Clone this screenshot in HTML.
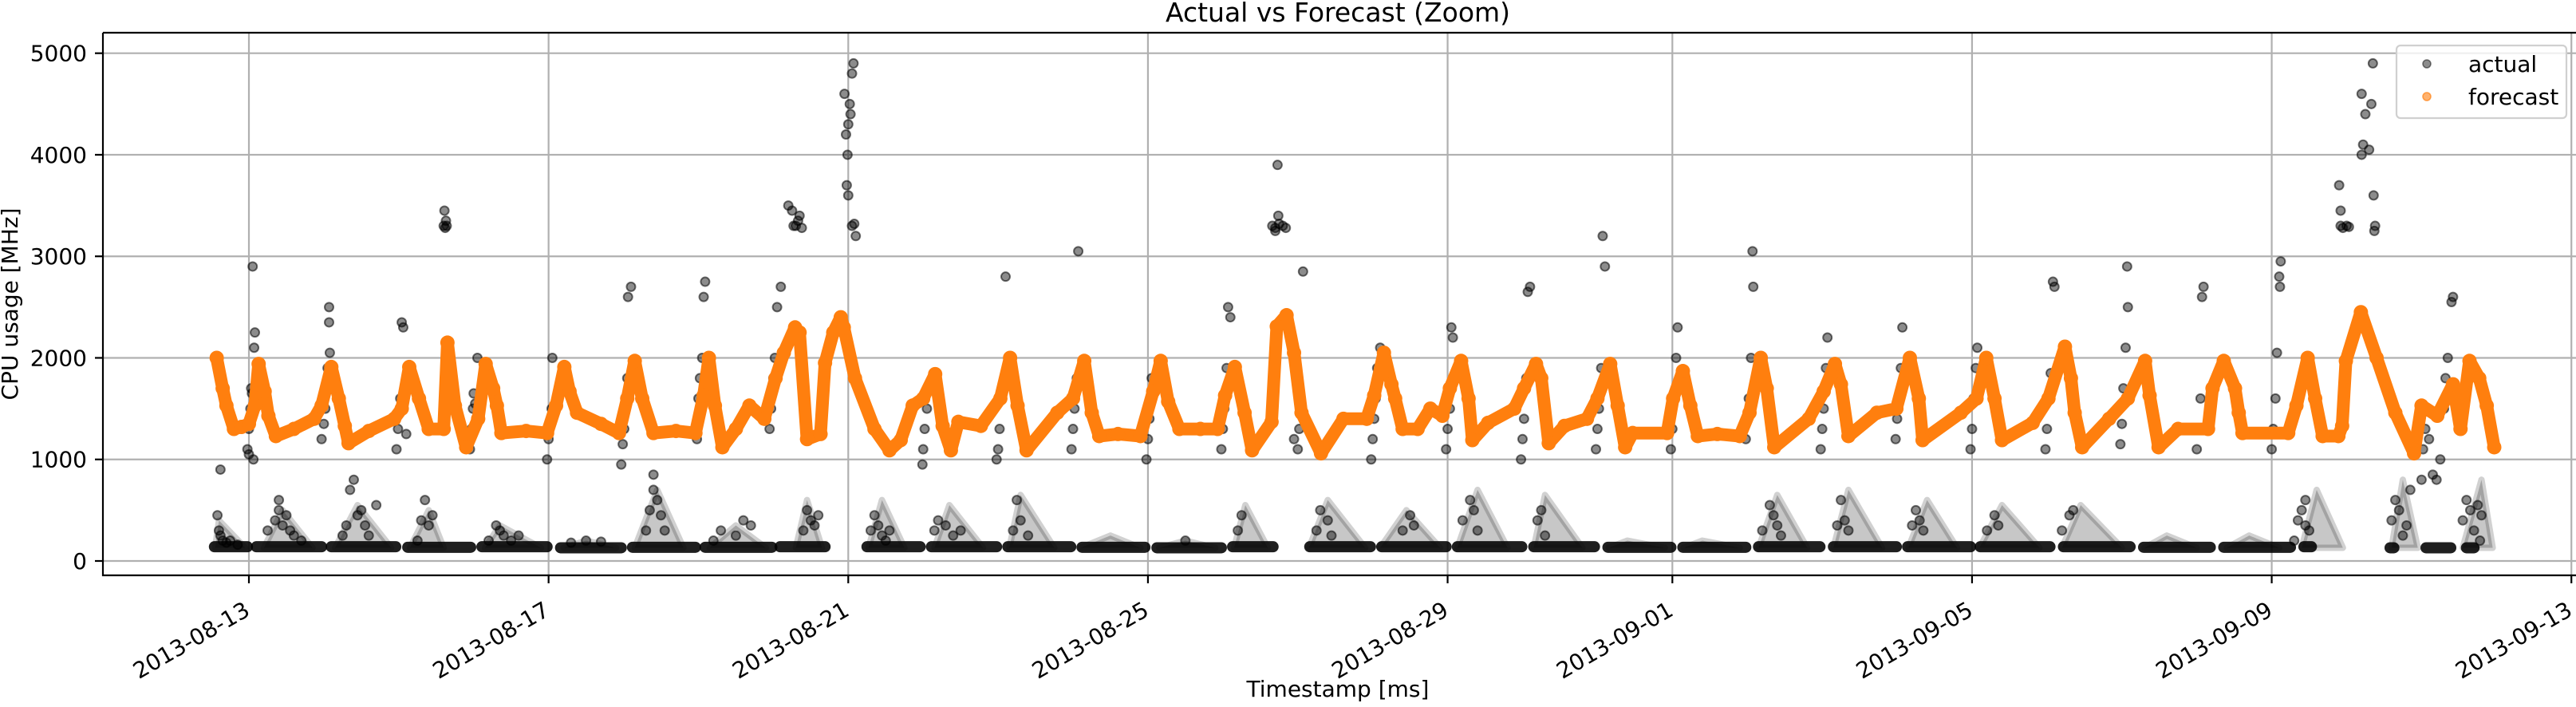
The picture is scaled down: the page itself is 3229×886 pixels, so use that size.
<!DOCTYPE html>
<html><head><meta charset="utf-8"><style>
html,body{margin:0;padding:0;background:#fff;}
svg{display:block;font-family:"DejaVu Sans","Liberation Sans",sans-serif;}
</style></head><body>
<svg id="chart" width="3229" height="886" viewBox="0 0 3229 886" xmlns="http://www.w3.org/2000/svg">
<rect width="3229" height="886" fill="#fff"/>
<g id="grid"></g>
<g id="actualLayer"></g>
<g id="forecastLayer"></g>
<g id="axes"></g>
<text x="1677" y="27" font-size="33" text-anchor="middle" fill="#000">Actual vs Forecast (Zoom)</text>
<text x="1677" y="873" font-size="28" text-anchor="middle" fill="#000">Timestamp [ms]</text>
<text x="0" y="0" font-size="28" text-anchor="middle" fill="#000" transform="translate(22,381) rotate(-90)">CPU usage [MHz]</text>
<g>
<rect x="3004" y="57" width="213" height="91" rx="5" fill="#fff" fill-opacity="0.8" stroke="#d0d0d0" stroke-width="2.2"/>
<circle cx="3042" cy="80" r="5" fill="rgba(0,0,0,0.45)" stroke="rgba(0,0,0,0.5)" stroke-width="1.5"/>
<text x="3094" y="90" font-size="28" fill="#000">actual</text>
<circle cx="3042" cy="121" r="5" fill="rgba(255,127,14,0.6)" stroke="rgba(255,127,14,0.7)" stroke-width="1.5"/>
<text x="3094" y="131" font-size="28" fill="#000">forecast</text>
</g>
</svg>
<script>
// time in days since 2013-08-12 00:00
const yTicks = [0, 1000, 2000, 3000, 4000, 5000];
const xTickDays = [1, 5, 9, 13, 17, 20, 24, 28, 32];
const xTickLabels = ["2013-08-13","2013-08-17","2013-08-21","2013-08-25","2013-08-29","2013-09-01","2013-09-05","2013-09-09","2013-09-13"];

const forecastTime = [0.57,0.65,0.70,0.80,0.90,1.00,1.08,1.13,1.21,1.26,1.36,1.6,1.87,1.97,2.10,2.20,2.28,2.33,2.6,2.94,3.04,3.14,3.27,3.40,3.60,3.65,3.75,3.90,4.06,4.16,4.26,4.31,4.37,4.7,4.98,5.10,5.21,5.28,5.38,5.7,5.94,6.05,6.15,6.25,6.40,6.7,6.96,7.07,7.14,7.22,7.32,7.5,7.68,7.88,8.03,8.14,8.29,8.35,8.45,8.63,8.69,8.80,8.90,8.94,9.09,9.35,9.55,9.70,9.86,10.0,10.16,10.26,10.37,10.47,10.77,11.03,11.16,11.26,11.38,11.79,12.0,12.15,12.25,12.35,12.6,12.9,13.07,13.17,13.27,13.42,13.7,13.93,14.03,14.16,14.29,14.39,14.65,14.72,14.85,14.95,15.05,15.31,15.61,15.92,16.02,16.15,16.25,16.30,16.4,16.6,16.77,16.93,17.03,17.18,17.28,17.33,17.54,17.89,18.02,18.18,18.25,18.35,18.56,18.86,19.0,19.17,19.27,19.37,19.47,19.93,20.01,20.14,20.24,20.34,20.6,20.9,21.03,21.18,21.26,21.36,21.82,22.02,22.17,22.25,22.35,22.73,22.99,23.17,23.29,23.34,23.85,24.06,24.19,24.3,24.4,24.81,25.02,25.24,25.32,25.37,25.47,25.83,26.08,26.31,26.37,26.49,26.75,27.15,27.21,27.36,27.51,27.56,27.61,28.22,28.33,28.48,28.58,28.68,28.89,28.94,28.99,29.19,29.4,29.65,29.9,30.0,30.21,30.42,30.52,30.64,30.77,30.87,30.97];
const forecastValue = [2000,1700,1530,1300,1320,1350,1530,1940,1670,1430,1230,1300,1400,1530,1910,1600,1330,1160,1280,1400,1500,1910,1600,1300,1300,2150,1530,1120,1400,1940,1700,1530,1260,1280,1260,1530,1910,1670,1460,1350,1260,1600,1970,1600,1260,1280,1260,1630,2000,1530,1120,1300,1530,1400,1800,2050,2300,2250,1200,1250,1950,2250,2400,2300,1800,1300,1090,1190,1530,1600,1840,1330,1090,1370,1330,1600,2000,1530,1090,1460,1600,1970,1460,1230,1250,1230,1670,1970,1570,1300,1300,1300,1630,1910,1460,1090,1370,2310,2420,2050,1460,1060,1400,1400,1630,2050,1740,1600,1300,1300,1500,1430,1700,1970,1600,1190,1360,1500,1700,1940,1800,1160,1330,1400,1600,1940,1530,1120,1260,1260,1600,1870,1530,1230,1250,1230,1460,2000,1700,1120,1400,1670,1940,1740,1230,1460,1500,2000,1600,1190,1460,1600,2000,1600,1190,1360,1600,2110,1800,1460,1120,1400,1600,1970,1630,1120,1300,1300,1700,1970,1700,1460,1260,1260,1530,2000,1600,1230,1230,1330,1970,2450,2000,1460,1060,1530,1430,1740,1300,1970,1800,1530,1120];

const baseStart = [0.54,1.10,2.10,3.12,4.11,5.16,6.12,7.09,8.09,9.25,10.11,11.13,12.12,13.12,14.13,15.16,16.12,17.13,18.15,19.14,20.14,21.15,22.15,23.14,24.11,25.22,26.29,27.36,28.43,29.58,30.06,30.6];
const baseEnd = [0.98,1.97,2.96,3.96,4.98,5.97,6.96,7.98,8.69,9.96,10.98,11.97,12.96,13.98,14.67,15.97,16.98,17.99,18.96,19.98,20.98,21.97,22.99,23.98,25.04,26.11,27.18,28.25,28.53,29.63,30.39,30.7];
const baseValue = [140,140,140,135,140,130,135,135,140,140,140,140,135,130,140,140,140,140,140,135,135,140,140,140,140,140,135,135,140,130,130,130];

// daytime clusters of actual usage: start, peak time, end, peak value
const bumpStart = [0.55,1.2,2.15,3.15,4.15,5.2,6.15,7.15,8.3,9.27,10.15,11.15,12.1,13.15,14.15,15.15,16.1,17.13,18.15,19.15,20.15,21.15,22.15,23.15,24.1,25.2,26.3,27.4,28.4,29.6,30.55];
const bumpPeakTime = [0.6,1.45,2.45,3.4,4.35,5.5,6.45,7.5,8.45,9.45,10.35,11.3,12.5,13.5,14.3,15.4,16.45,17.4,18.3,19.4,20.4,21.4,22.35,23.4,24.4,25.45,26.6,27.7,28.6,29.75,30.8];
const bumpEnd = [0.95,1.85,2.9,3.6,4.9,5.9,6.8,7.9,8.65,9.75,10.8,11.75,12.9,13.9,14.6,15.9,16.9,17.8,18.8,19.9,20.9,21.8,22.8,23.8,24.9,26.0,27.0,28.1,28.95,29.95,30.95];
const bumpPeak = [400,500,550,500,350,200,700,350,600,600,550,650,250,200,550,600,500,700,650,200,200,650,700,600,550,550,250,250,700,800,800];

const actualTime = [0.58,0.6,0.62,0.65,0.7,0.75,0.85,0.62,0.98,1.0,1.0,1.02,1.03,1.04,1.05,1.07,1.08,1.06,
1.25,1.35,1.4,1.45,1.5,1.55,1.6,1.7,1.4,1.97,2.0,2.02,2.03,2.05,2.07,2.07,2.08,
2.25,2.3,2.35,2.4,2.45,2.5,2.55,2.6,2.7,2.97,2.99,3.0,3.02,3.04,3.06,3.1,
3.25,3.3,3.35,3.4,3.45,3.6,3.62,3.63,3.61,3.64,3.95,3.97,3.99,4.0,4.02,4.05,
4.2,4.3,4.35,4.4,4.5,4.6,4.98,5.0,5.02,5.04,5.05,
5.3,5.5,5.7,5.97,5.99,6.01,6.03,6.05,6.06,6.1,6.0,
6.3,6.35,6.4,6.45,6.5,6.55,6.4,6.98,7.0,7.0,7.02,7.05,7.07,7.09,
7.2,7.3,7.5,7.6,7.7,7.95,7.97,8.0,8.02,8.05,8.1,
8.27,8.3,8.33,8.35,8.38,8.25,8.2,8.4,8.45,8.5,8.55,8.6,
8.95,8.97,8.99,9.0,9.02,9.05,9.07,9.03,8.98,9.05,9.08,9.0,9.1,
9.3,9.35,9.4,9.45,9.5,9.55,9.99,10.0,10.02,10.05,
10.15,10.2,10.3,10.4,10.5,10.98,11.0,11.02,11.05,11.1,
11.2,11.25,11.3,11.4,11.98,12.0,12.02,12.05,12.07,
12.98,13.0,13.02,13.05,13.5,13.98,14.0,14.02,14.05,14.07,14.1,
14.2,14.25,14.66,14.7,14.75,14.8,14.84,14.74,14.73,14.7,14.95,15.0,15.02,15.05,15.07,
15.25,15.3,15.4,15.45,15.98,16.0,16.02,16.04,16.06,16.1,
16.4,16.5,16.55,16.98,17.0,17.03,17.05,17.07,
17.2,17.3,17.35,17.4,17.98,18.0,18.02,18.05,18.07,18.1,
18.2,18.25,18.3,18.98,19.0,19.02,19.05,19.07,19.1,
19.98,20.0,20.02,20.05,20.07,20.98,21.0,21.02,21.05,21.07,21.08,
21.2,21.3,21.35,21.4,21.45,21.98,22.0,22.02,22.05,22.07,
22.2,22.25,22.3,22.35,22.98,23.0,23.02,23.05,23.07,
23.2,23.25,23.3,23.35,23.98,24.0,24.02,24.05,24.07,
24.2,24.3,24.35,24.98,25.0,25.02,25.05,25.1,25.08,
25.2,25.3,25.35,25.98,26.0,26.02,26.05,26.07,26.08,
27.0,27.02,27.05,27.07,27.09,28.0,28.02,28.05,28.07,
28.3,28.35,28.4,28.45,28.5,28.45,28.1,28.12,28.11,
28.92,28.95,29.0,29.03,28.92,28.9,29.2,29.22,29.25,29.2,29.3,29.33,29.35,29.37,29.38,29.36,
29.6,29.65,29.7,29.75,29.8,29.85,
30.0,30.02,30.05,30.1,30.15,30.2,30.25,30.3,30.32,30.35,30.4,30.42,
30.55,30.6,30.65,30.7,30.75,30.8,30.78];
const actualValue = [450,300,250,200,180,200,160,900,1100,1050,1300,1500,1700,1650,2900,2100,2250,1000,
300,400,500,350,450,300,250,200,600,1200,1350,1500,1700,1900,2350,2500,2050,
250,350,700,800,450,500,350,250,550,1100,1300,1450,1600,2350,2300,1250,
200,400,600,350,450,3300,3280,3350,3450,3300,1100,1300,1500,1650,1550,2000,
200,350,300,250,200,250,1000,1200,1350,1500,2000,
180,200,190,950,1150,1300,1600,1800,2600,2700,1400,
300,500,700,600,450,300,850,1200,1400,1600,1800,2000,2600,2750,
200,300,250,400,350,1300,1500,1800,2000,2500,2700,
3300,3300,3350,3400,3280,3450,3500,300,500,400,350,450,
4600,4200,4000,4300,4500,4800,4900,4400,3700,3300,3320,3600,3200,
300,450,350,250,200,300,950,1100,1300,1500,
300,400,350,250,300,1000,1100,1300,1600,2800,
300,600,400,250,1100,1300,1500,1800,3050,
1000,1200,1400,1800,200,1100,1300,1500,1900,2500,2400,
300,450,3300,3280,3320,3300,3280,3400,3900,3250,1200,1100,1300,1500,2850,
300,500,400,250,1000,1200,1400,1600,1900,2100,
300,450,350,1100,1300,1500,2300,2200,
400,600,500,300,1000,1200,1400,1800,2650,2700,
400,500,250,1100,1300,1500,1900,3200,2900,
1100,1300,1600,2000,2300,1200,1400,1600,2000,3050,2700,
300,550,450,350,250,1100,1300,1500,1900,2200,
350,600,400,300,1200,1400,1600,1900,2300,
350,500,400,300,1100,1300,1600,1900,2100,
300,450,350,1100,1300,1600,1850,2700,2750,
300,450,500,1150,1350,1700,2100,2900,2500,
1100,1300,1600,2600,2700,1100,1300,1600,2050,
200,400,500,350,300,600,2800,2950,2700,
3300,3280,3300,3290,3450,3700,4000,4100,4400,4600,4050,4500,4900,3250,3300,3600,
400,600,500,250,350,700,
800,1100,1300,1200,850,800,1000,1500,1800,2000,2550,2600,
400,600,500,300,550,450,200];

const NS = "http://www.w3.org/2000/svg";
const X0 = 218.1, DAY = 93.91, Y0 = 703, YS = 0.12726;
function xScale(t){ return X0 + t*DAY; }
function yScale(v){ return Y0 - v*YS; }
function mk(tag, attrs, parent){ const e=document.createElementNS(NS,tag); for(const k in attrs) e.setAttribute(k, attrs[k]); parent.appendChild(e); return e; }

const grid = document.getElementById('grid');
const axes = document.getElementById('axes');
const L=129, R=3231, T=41, B=721;

yTicks.forEach(v=>{
  const y=yScale(v);
  const g=mk('line',{x1:L,x2:R,y1:y,y2:y,stroke:'#b0b0b0','stroke-width':2.2},grid);
  
  
  const tk=mk('line',{x1:L-10,x2:L,y1:y,y2:y,stroke:'#000','stroke-width':2.2},axes);
  
  
  const tx=mk('text',{x:L-20,y:y+10,'font-size':28,'text-anchor':'end',fill:'#000'},axes);
  tx.textContent=String(v);
  
  
});
xTickDays.forEach((d,i)=>{
  const x=xScale(d);
  const g=mk('line',{x1:x,x2:x,y1:T,y2:B,stroke:'#b0b0b0','stroke-width':2.2},grid);
  
  
  const tk=mk('line',{x1:x,x2:x,y1:B,y2:B+10,stroke:'#000','stroke-width':2.2},axes);
  
  
  const ax=x+3, ay=770;
  const tx=mk('text',{x:ax,y:ay,'font-size':28,'text-anchor':'end',fill:'#000',transform:`rotate(-30 ${ax} ${ay})`},axes);
  tx.textContent=xTickLabels[i];
  
  
});
const frame=mk('path',{d:`M${L},${T} H${R} M${L},${T} V${B} H${R}`,fill:'none',stroke:'#000','stroke-width':2.2},axes);



// actual series
const act = document.getElementById('actualLayer');
bumpStart.forEach((s,i)=>{
  const yb=yScale(130), yp=yScale(bumpPeak[i]);
  const xm=xScale(bumpPeakTime[i]);
  const d=`M${xScale(s)},${yb} Q${xm},${yp} ${xm},${yp} Q${xm},${yp} ${xScale(bumpEnd[i])},${yb} Z`;
  const p=mk('path',{d:d,fill:'rgba(0,0,0,0.22)',stroke:'rgba(0,0,0,0.18)','stroke-width':8,'stroke-linejoin':'round'},act);
  
  
});
baseStart.forEach((s,i)=>{
  const y=yScale(baseValue[i]);
  const ln=mk('line',{x1:xScale(s),x2:xScale(baseEnd[i]),y1:y,y2:y,stroke:'rgba(0,0,0,0.88)','stroke-width':14,'stroke-linecap':'round'},act);
  
  
});
actualTime.forEach((t,i)=>{
  const c=mk('circle',{cx:xScale(t),cy:yScale(actualValue[i]),r:5.5,fill:'rgba(0,0,0,0.45)',stroke:'rgba(0,0,0,0.55)','stroke-width':2},act);
  
  
});

// forecast series
const fc = document.getElementById('forecastLayer');
const pts = forecastTime.map((t,i)=>xScale(t).toFixed(1)+','+yScale(forecastValue[i]).toFixed(1)).join(' ');
const pl=mk('polyline',{points:pts,fill:'none',stroke:'#ff7f0e','stroke-width':16,'stroke-linejoin':'round','stroke-linecap':'round'},fc);


forecastTime.forEach((t,i)=>{
  const c=mk('circle',{cx:xScale(t),cy:yScale(forecastValue[i]),r:9,fill:'#ff7f0e'},fc);
  
  
});
</script>
</body></html>
